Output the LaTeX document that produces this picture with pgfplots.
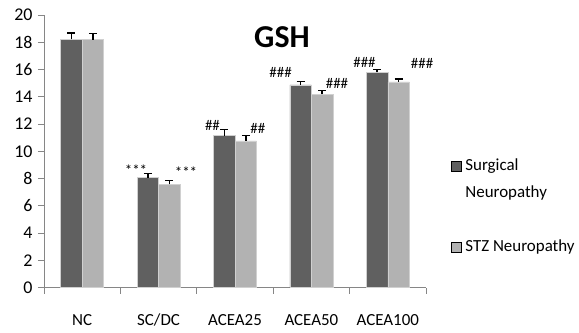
\documentclass[border=0pt]{standalone}
\usepackage{pgfplots}
\pgfplotsset{compat=1.18}
\usepackage{fontspec}
\setmainfont{Carlito}
\definecolor{darkbar}{HTML}{606060}
\definecolor{lightbar}{HTML}{B2B2B2}
\definecolor{axisgray}{HTML}{868686}
\definecolor{edgegray}{HTML}{D0D0D0}
\begin{document}
\begin{tikzpicture}
\path[use as bounding box] (0,0) rectangle (579bp,333bp);
\begin{axis}[
  at={(44bp,45.3bp)}, anchor=south west,
  scale only axis, width=382bp, height=272.7bp,
  xmin=-0.5, xmax=4.5, ymin=0, ymax=20,
  axis y line*=left, axis x line*=bottom,
  axis line style={axisgray, line width=0.8bp},
  tick align=outside, major tick length=6bp,
  tick style={axisgray, line width=0.8bp},
  ytick={0,2,...,20},
  yticklabel style={font=\fontsize{18}{18}\selectfont, anchor=east, xshift=-2bp},
  /pgf/number format/assume math mode=true,
  xtick={-0.5,0.5,...,4.5}, xticklabels={},
  extra x ticks={0,1,2,3,4},
  extra x tick labels={NC,SC/DC,ACEA25,ACEA50,ACEA100},
  extra x tick style={xtick style={draw=none}, xticklabel style={font=\fontsize{17}{17}\selectfont, anchor=base, yshift=-32bp}},
  legend image code/.code={\fill[#1] (0bp,0bp) rectangle (10bp,10bp);},
  legend cell align=left,
  legend style={draw=none, fill=none, inner sep=0pt, outer sep=0pt,
    at={(1.0654,0.4756)}, anchor=north west,
    font=\fontsize{17}{17}\selectfont, row sep=0pt, column sep=4bp,
    nodes={inner sep=0pt, text height=12bp, text depth=15bp}},
  clip=false,
]
\addplot[forget plot, ybar, bar width=21.5bp, bar shift=-10.75bp, fill=darkbar, draw=edgegray, line width=0.5bp,
  error bars/.cd, y dir=plus, y explicit,
  error bar style={black, line width=1.5bp, xshift=-10.75bp},
  error mark options={black, line width=1.5bp, mark size=4bp, rotate=90}]
coordinates {(0,18.22) +- (0,0.45) (1,8.07) +- (0,0.30) (2,11.15) +- (0,0.44) (3,14.87) +- (0,0.27) (4,15.80) +- (0,0.22)};
\addplot[forget plot, ybar, bar width=21.5bp, bar shift=10.75bp, fill=lightbar, draw=edgegray, line width=0.5bp,
  error bars/.cd, y dir=plus, y explicit,
  error bar style={black, line width=1.5bp, xshift=10.75bp},
  error mark options={black, line width=1.5bp, mark size=4bp, rotate=90}]
coordinates {(0,18.20) +- (0,0.45) (1,7.58) +- (0,0.27) (2,10.76) +- (0,0.39) (3,14.18) +- (0,0.27) (4,15.09) +- (0,0.22)};
\addlegendimage{fill=darkbar}
\addlegendentry{Surgical}
\addlegendimage{empty legend}
\addlegendentry{Neuropathy}
\addlegendimage{empty legend}
\addlegendentry{}
\addlegendimage{fill=lightbar}
\addlegendentry{STZ Neuropathy}
\node[font=\fontsize{32}{32}\selectfont\bfseries] at (axis cs:2.615,18.39) {GSH};
\begin{scope}[every node/.style={font=\fontsize{15}{15}\selectfont, inner sep=0pt}]
\node at (axis cs:0.704,8.63) {***};
\node at (axis cs:1.359,8.49) {***};
\node at (axis cs:1.705,11.93) {\#\#};
\node at (axis cs:2.30,11.71) {\#\#};
\node at (axis cs:2.596,15.75) {\#\#\#};
\node at (axis cs:3.335,15.01) {\#\#\#};
\node at (axis cs:3.695,16.55) {\#\#\#};
\node at (axis cs:4.448,16.48) {\#\#\#};
\end{scope}
\end{axis}
\end{tikzpicture}
\end{document}
